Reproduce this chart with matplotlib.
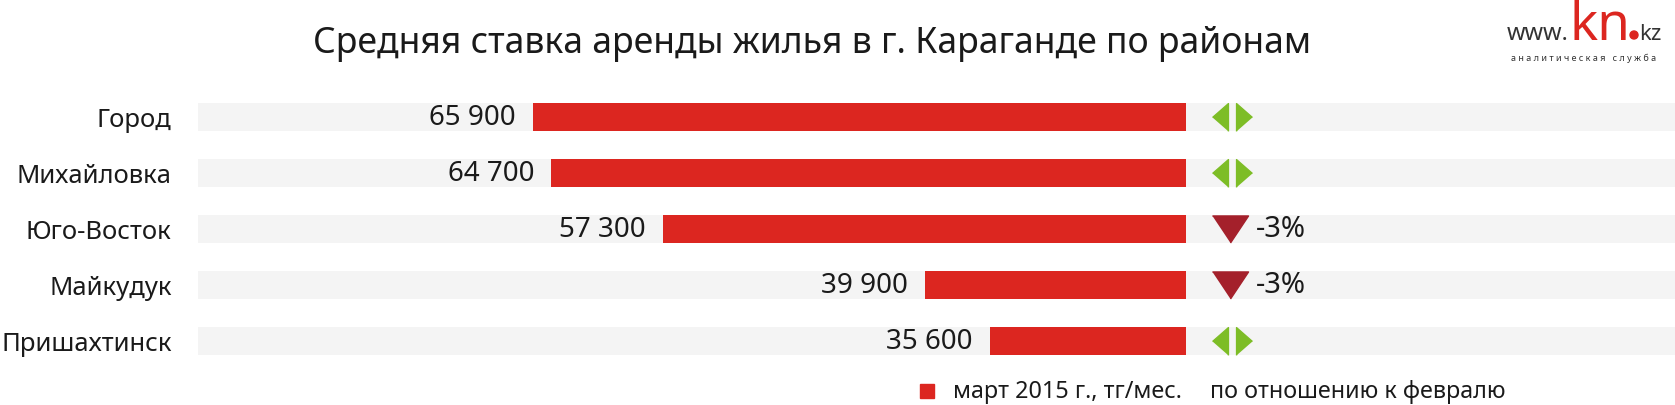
import matplotlib.pyplot as plt
import matplotlib.transforms as mtransforms
from matplotlib.patches import Ellipse, Rectangle
import numpy as np

# data
districts = ["Город", "Михайловка", "Юго-Восток", "Майкудук", "Пришахтинск"]
rent = [65900, 64700, 57300, 39900, 35600]
change_pct = [0, 0, -3, -3, 0]

# the original infographic uses a cut axis; bars start at this value
base = 22560

RED = "#DC2620"
DARK_RED = "#A4202B"
GREEN = "#7DBD26"
GRAY_BG = "#F4F4F4"
TXT = "#1A1A1A"

plt.rcParams["font.family"] = ["Noto Sans", "DejaVu Sans"]

fig = plt.figure(figsize=(16.75, 4.06), dpi=100)
ax = fig.add_axes([198 / 1675, 1 - 370 / 406, 1 - 198 / 1675, 280 / 406])

y = np.arange(len(districts))
lo, hi = 88170, -9910
ax.barh(y, [lo - hi] * len(y), left=hi, height=0.5, color=GRAY_BG, zorder=1)
ax.barh(y, np.array(rent) - base, left=base, height=0.5, color=RED, zorder=2)
ax.set_xlim(lo, hi)
ax.set_ylim(len(y) - 0.5, -0.5)

for yi, v in zip(y, rent):
    ax.annotate(f"{v:,}".replace(",", " "), (v, yi), xytext=(-12.5, 0),
                textcoords="offset points", ha="right", va="center",
                fontsize=20, color=TXT, zorder=3)

ax.set_yticks(y)
ax.set_yticklabels(districts, fontsize=18.5, color=TXT)
ax.tick_params(axis="y", length=0, pad=19)
ax.set_xticks([])
for s in ax.spines.values():
    s.set_visible(False)

# change markers
tr = mtransforms.blended_transform_factory(ax.transAxes, ax.transData)
left_tri = [(-8, 0), (8, 14), (8, -14)]
right_tri = [(8, 0), (-8, 14), (-8, -14)]
down_tri = [(-18, 13.5), (18, 13.5), (0, -13.5)]
for yi, c in zip(y, change_pct):
    if c == 0:
        ax.plot(0.692, yi, marker=left_tri, markersize=20, color=GREEN,
                transform=tr, clip_on=False, zorder=3)
        ax.plot(0.708, yi, marker=right_tri, markersize=20, color=GREEN,
                transform=tr, clip_on=False, zorder=3)
    else:
        ax.plot(0.6987, yi, marker=down_tri, markersize=26, color=DARK_RED,
                transform=tr, clip_on=False, zorder=3)
        ax.text(0.716, yi, f"{c}%", transform=tr, ha="left", va="center",
                fontsize=21, color=TXT, zorder=3)

# title
fig.text(812 / 1675, 1 - 44 / 406, "Средняя ставка аренды жилья в г. Караганде по районам",
         ha="center", va="center", fontsize=25.6, color=TXT)

# legend
fig.add_artist(Rectangle((920 / 1675, 1 - 399 / 406), 14 / 1675, 14 / 406,
                         transform=fig.transFigure, color=RED))
fig.text(953 / 1675, 1 - 392 / 406, "март 2015 г., тг/мес.", ha="left", va="center",
         fontsize=16.8, color=TXT)
fig.text(1210 / 1675, 1 - 392 / 406, "по отношению к февралю", ha="left", va="center",
         fontsize=16.8, color=TXT)

# logo
fig.text(1569 / 1675, 1 - 40 / 406, "www.", ha="right", va="baseline", fontsize=17, color="#333333")
fig.text(1570 / 1675, 1 - 40 / 406, "kn", ha="left", va="baseline", fontsize=38, color=RED)
fig.text(1639 / 1675, 1 - 40 / 406, "kz", ha="left", va="baseline", fontsize=16, color="#333333")
fig.add_artist(Ellipse((1634 / 1675, 1 - 36 / 406), 8 / 1675, 8 / 406,
                       transform=fig.transFigure, color=RED))
fig.text(1584 / 1675, 1 - 54 / 406, "а н а л и т и ч е с к а я   с л у ж б а", ha="center",
         va="top", fontsize=6.5, color="#333333")

fig.savefig("out.png", dpi=100)
